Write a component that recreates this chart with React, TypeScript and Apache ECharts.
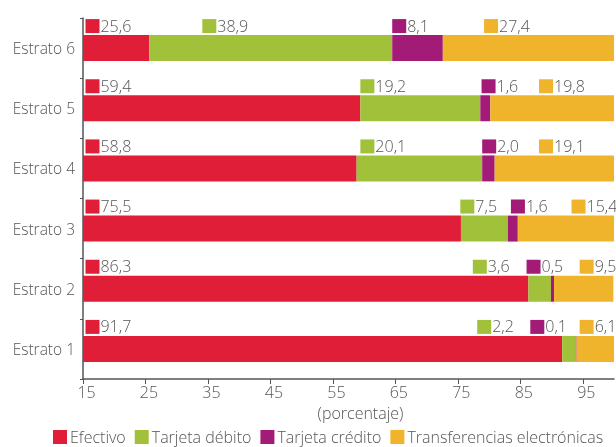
import React, { useEffect, useRef } from "react";
import * as echarts from "echarts";

const categories = ["Estrato 1", "Estrato 2", "Estrato 3", "Estrato 4", "Estrato 5", "Estrato 6"];
const seriesNames = ["Efectivo", "Tarjeta débito", "Tarjeta crédito", "Transferencias electrónicas"];
const efectivo = [91.7, 86.3, 75.5, 58.8, 59.4, 25.6];
const debito = [2.2, 3.6, 7.5, 20.1, 19.2, 38.9];
const credito = [0.1, 0.5, 1.6, 2.0, 1.6, 8.1];
const transferencias = [6.1, 9.5, 15.4, 19.1, 19.8, 27.4];
const xTicks = [15, 25, 35, 45, 55, 65, 75, 85, 95];

// where each value label sits along the axis (axis units)
const labelAtEfectivo = [15.4, 15.4, 15.4, 15.4, 15.4, 15.4];
const labelAtDebito = [78.1, 77.4, 75.4, 59.4, 59.4, 34.1];
const labelAtCredito = [86.6, 86.0, 83.5, 78.9, 78.8, 64.5];
const labelAtTransf = [94.5, 94.5, 93.2, 88.0, 88.0, 79.2];

const colors = ["#E01E38", "#A2C13A", "#A21B76", "#F0B42C"];
const FONT = '"Open Sans", "Noto Sans", sans-serif';
const TEXT = "#555555";
const WEIGHT = 300;

export default function App() {
  const ref = useRef<HTMLDivElement>(null);
  useEffect(() => {
    if (!ref.current) return;
    const chart = echarts.init(ref.current, null, { renderer: "svg" });
    const values = [efectivo, debito, credito, transferencias];
    const labelAts = [labelAtEfectivo, labelAtDebito, labelAtCredito, labelAtTransf];
    const labelData: any[] = [];
    values.forEach((arr, s) => {
      arr.forEach((v, c) => {
        labelData.push({ value: [labelAts[s][c], c, v, s] });
      });
    });
    chart.setOption({
      animation: false,
      textStyle: { fontFamily: FONT, fontWeight: WEIGHT },
      grid: { left: 83, right: 2, top: 18, bottom: 68, containLabel: false },
      legend: {
        data: seriesNames,
        left: 48,
        top: 424,
        icon: "rect",
        itemWidth: 14,
        itemHeight: 14,
        itemGap: 9,
        textStyle: { fontSize: 16, color: TEXT, fontFamily: FONT, fontWeight: WEIGHT, padding: [0, 0, 0, -2] },
      },
      xAxis: {
        type: "value",
        min: 15,
        max: 100,
        interval: 10,
        name: "(porcentaje)",
        nameLocation: "middle",
        nameGap: 26,
        nameTextStyle: { fontSize: 16, color: TEXT, fontFamily: FONT, fontWeight: WEIGHT, padding: [0, 0, 0, 24] },
        axisLine: { show: true, lineStyle: { color: "#555", width: 1.5 } },
        axisTick: { show: true, length: 5, customValues: xTicks, lineStyle: { color: "#555" } },
        axisLabel: {
          fontSize: 16,
          color: TEXT,
          margin: 5,
          customValues: xTicks,
          fontFamily: FONT,
          fontWeight: WEIGHT,
          padding: [0, 0, 0, 7],
        },
        splitLine: { show: false },
      },
      yAxis: {
        type: "category",
        data: categories,
        axisLine: { show: true, lineStyle: { color: "#555", width: 1.5 } },
        axisTick: { show: true, length: 3, lineStyle: { color: "#555" } },
        axisLabel: { fontSize: 15.5, color: TEXT, margin: 8, fontFamily: FONT, fontWeight: WEIGHT },
      },
      series: [
        ...seriesNames.map((name, i) => ({
          name,
          type: "bar",
          stack: "total",
          data: values[i],
          barWidth: 26,
          itemStyle: { color: colors[i] },
          emphasis: { disabled: true },
        })),
        {
          type: "custom",
          name: "labels",
          clip: false,
          silent: true,
          data: labelData,
          renderItem: (params: any, api: any) => {
            const x = api.value(0);
            const c = api.value(1);
            const v = api.value(2);
            const s = api.value(3);
            const p = api.coord([x, c]);
            return {
              type: "group",
              children: [
                {
                  type: "rect",
                  shape: { x: p[0], y: p[1] - 29, width: 14, height: 14 },
                  style: { fill: colors[s] },
                },
                {
                  type: "text",
                  style: {
                    text: Number(v).toFixed(1).replace(".", ","),
                    x: p[0] + 15,
                    y: p[1] - 22.5,
                    verticalAlign: "middle",
                    align: "left",
                    fill: TEXT,
                    fontSize: 16,
                    fontFamily: FONT,
                    fontWeight: WEIGHT,
                  },
                },
              ],
            };
          },
        },
      ],
    });
    return () => chart.dispose();
  }, []);
  return (
    <div
      ref={ref}
      style={{ position: "fixed", left: 0, top: 0, width: 616, height: 447 }}
    />
  );
}
